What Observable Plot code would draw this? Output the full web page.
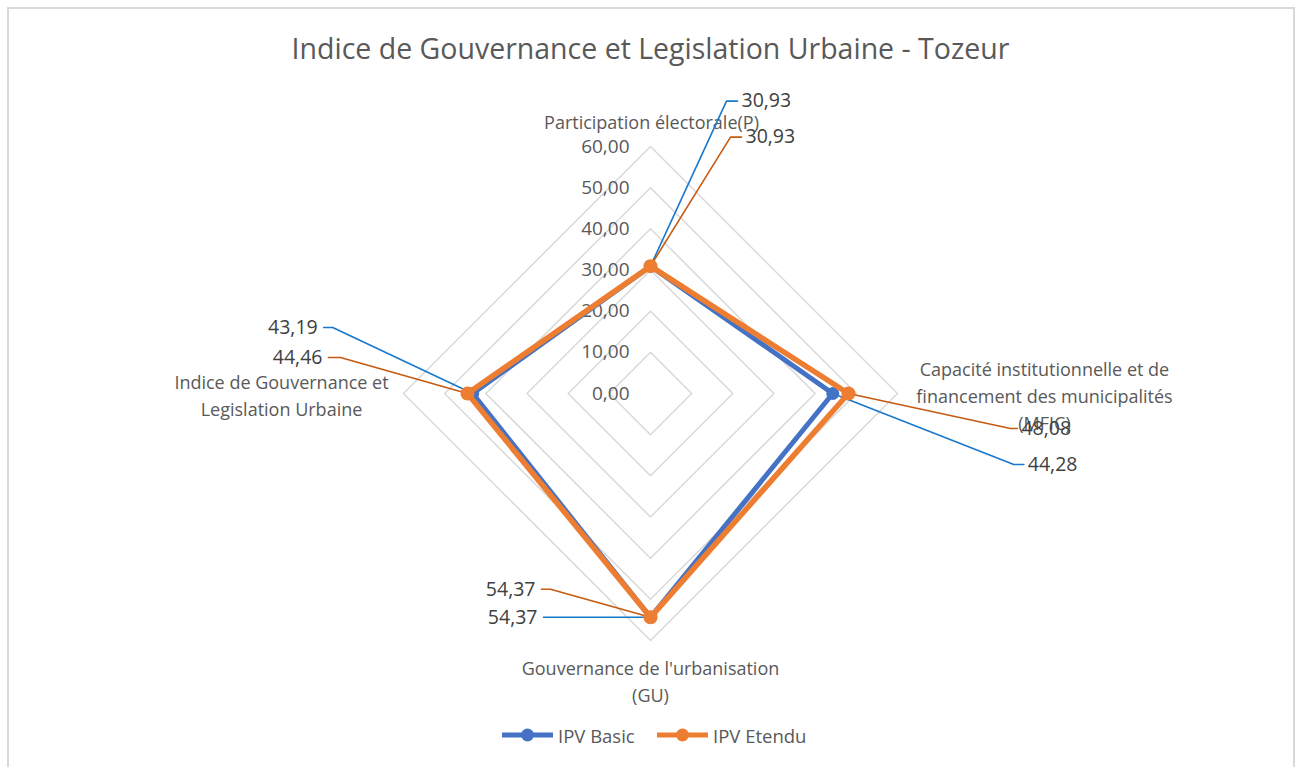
<!DOCTYPE html>
<html><head><meta charset="utf-8">
<script src="https://cdn.jsdelivr.net/npm/d3@7"></script>
<script src="https://cdn.jsdelivr.net/npm/@observablehq/plot@0.6"></script>
<style>
html,body{margin:0;padding:0;background:#fff;}
body{width:1301px;height:767px;position:relative;overflow:hidden;font-family:"Open Sans",sans-serif;}
#frame{position:absolute;left:7px;top:7px;width:1284px;height:800px;border:2px solid #d9d9d9;}
#title{position:absolute;left:0;width:1301px;top:29px;text-align:center;font-size:28.5px;color:#595959;line-height:38px;}
#chart{position:absolute;left:0;top:80px;}
#legend{position:absolute;left:0;top:722px;width:1301px;height:26px;font-size:18.5px;color:#595959;}
.item{position:absolute;top:0;display:flex;align-items:center;height:26px;}
.item svg{margin-right:5px;}
</style></head>
<body>
<div id="frame"></div>
<div id="title">Indice de Gouvernance et Legislation Urbaine - Tozeur</div>
<div id="chart"></div>
<div id="legend"></div>
<script>
// ---- data ----
const axisNames = [
  "Participation électorale(P)",
  "Capacité institutionnelle et de\nfinancement des municipalités\n(MFIC)",
  "Gouvernance de l'urbanisation\n(GU)",
  "Indice de Gouvernance et\nLegislation Urbaine"
];
const seriesNames = ["IPV Basic", "IPV Etendu"];
const basicValues = [30.93, 44.28, 54.37, 43.19];
const etenduValues = [30.93, 48.08, 54.37, 44.46];
const tickValues = [0, 10, 20, 30, 40, 50, 60];
const tickLabels = ["0,00", "10,00", "20,00", "30,00", "40,00", "50,00", "60,00"];
const seriesColors = ["#4472C4", "#ED7D31"];
const leaderColors = ["#1878CC", "#C55A11"];

// ---- label layout (pixel offsets of leader elbows, tail length) ----
const leaderLayout = [
  [ {dx: 76, dy: -165, tail: 11}, {dx: 181, dy: 71, tail: 10}, {dx: -107, dy: 0, tail: 0}, {dx: -140, dy: -66, tail: -9} ],
  [ {dx: 80, dy: -129, tail: 11}, {dx: 162, dy: 35, tail: 7}, {dx: -100, dy: -28, tail: -9}, {dx: -127, dy: -36, tail: -12} ]
];
const axisLabelLayout = [
  {dx: 1, dy: -26},
  {dx: 147, dy: 1},
  {dx: 0, dy: 39},
  {dx: -122, dy: 0}
];

const fmt = v => v.toFixed(2).replace(".", ",");
const W = 1301, H = 630, cx = 650, cy = 313, rMax = 60, rPx = 247;
const k = rPx / rMax;
const ang = i => i * Math.PI / 2;
const pos = (i, v) => [v * Math.sin(ang(i)), v * Math.cos(ang(i))];

// grid
const grid = [];
tickValues.filter(t => t > 0).forEach(t => {
  for (let i = 0; i <= 4; i++) { const [x, y] = pos(i % 4, t); grid.push({t, x, y}); }
});
const tickData = tickValues.map((t, j) => ({x: 0, y: t, label: tickLabels[j]}));

// series
const allValues = [basicValues, etenduValues];
const seriesPts = [];
allValues.forEach((vals, s) => {
  for (let i = 0; i <= 4; i++) {
    const [x, y] = pos(i % 4, vals[i % 4]);
    seriesPts.push({s: seriesNames[s], si: s, i: i % 4, x, y, v: vals[i % 4], close: i === 4});
  }
});

// leaders
const leaders = [], dataLabels = [];
allValues.forEach((vals, s) => {
  vals.forEach((v, i) => {
    const [x, y] = pos(i, v);
    const L = leaderLayout[s][i];
    const ex = x + L.dx / k, ey = y - L.dy / k;
    const tx = ex + L.tail / k;
    const id = s + "-" + i;
    leaders.push({id, s, x, y}, {id, s, x: ex, y: ey}, {id, s, x: tx, y: ey});
    const right = L.dx > 0;
    dataLabels.push({x: tx, y: ey, text: fmt(v), anchor: right ? "start" : "end"});
  });
});

const axisLabels = axisNames.map((n, i) => {
  const [x, y] = pos(i, rMax);
  return {x, y, text: n, ...axisLabelLayout[i]};
});

const plot = Plot.plot({
  width: W, height: H, margin: 0,
  style: {fontFamily: "Open Sans, sans-serif", background: "transparent"},
  x: {domain: [-cx / k, (W - cx) / k], range: [0, W], axis: null},
  y: {domain: [-(H - cy) / k, cy / k], range: [H, 0], axis: null},
  marks: [
    Plot.line(grid, {x: "x", y: "y", z: "t", stroke: "#d9d9d9", strokeWidth: 1.5}),
    Plot.text(tickData, {x: "x", y: "y", text: "label", textAnchor: "end", dx: -21, fontSize: 19, fill: "#595959"}),
    Plot.text(axisLabels, {x: "x", y: "y", text: "text", fontSize: 18, fill: "#595959", lineHeight: 1.5, lineAnchor: "middle"}),
    Plot.line(leaders, {x: "x", y: "y", z: "id", stroke: d => leaderColors[d.s], strokeWidth: 1.6}),
    Plot.line(seriesPts.filter(d => d.si === 0), {x: "x", y: "y", stroke: seriesColors[0], strokeWidth: 5, strokeLinejoin: "round"}),
    Plot.dot(seriesPts.filter(d => d.si === 0 && !d.close), {x: "x", y: "y", r: 6.5, fill: seriesColors[0], stroke: "none"}),
    Plot.line(seriesPts.filter(d => d.si === 1), {x: "x", y: "y", stroke: seriesColors[1], strokeWidth: 5.5, strokeLinejoin: "round"}),
    Plot.dot(seriesPts.filter(d => d.si === 1 && !d.close), {x: "x", y: "y", r: 7, fill: seriesColors[1], stroke: "none"}),
    Plot.text(dataLabels.filter(d => d.anchor === "start"), {x: "x", y: "y", text: "text", textAnchor: "start", dx: 4, fontSize: 19.5, fill: "#404040"}),
    Plot.text(dataLabels.filter(d => d.anchor === "end"), {x: "x", y: "y", text: "text", textAnchor: "end", dx: -6, fontSize: 19.5, fill: "#404040"})
  ]
});
document.getElementById("chart").appendChild(plot);

// per-label pixel offsets for the axis names
{
  const g = plot.querySelectorAll("g[aria-label='text']")[1];
  g.querySelectorAll(":scope > text").forEach((t, i) => {
    const L = axisLabels[i];
    t.setAttribute("transform", (t.getAttribute("transform") || "") + ` translate(${L.dx},${L.dy})`);
  });
}

// legend
const legend = document.getElementById("legend");
const legendX = [502, 657];
seriesNames.forEach((n, s) => {
  const it = document.createElement("div");
  it.className = "item";
  it.style.left = legendX[s] + "px";
  it.innerHTML = `<svg width="51" height="14"><line x1="0" y1="7" x2="51" y2="7" stroke="${seriesColors[s]}" stroke-width="5"/><circle cx="25.5" cy="7" r="6.5" fill="${seriesColors[s]}"/></svg><span>${n}</span>`;
  legend.appendChild(it);
});
</script>
</body></html>
